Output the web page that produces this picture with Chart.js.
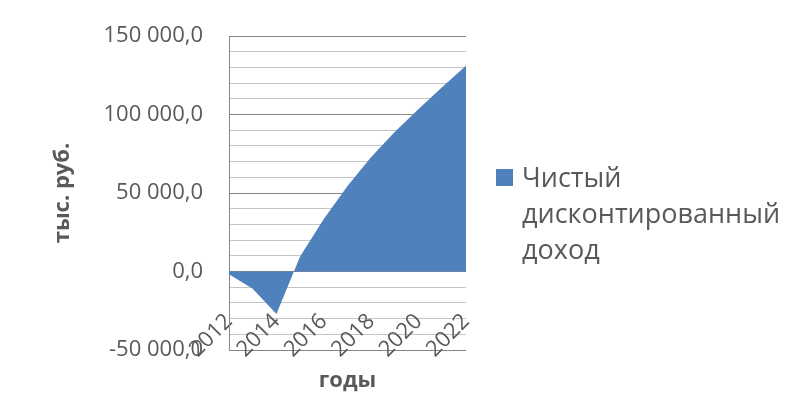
<!DOCTYPE html>
<html>
<head>
<meta charset="utf-8">
<script src="https://cdn.jsdelivr.net/npm/chart.js@4.4.1/dist/chart.umd.min.js"></script>
<style>
  body { margin: 0; background: #fff; }
  #wrap { position: relative; width: 794px; height: 409px; }
</style>
</head>
<body>
<div id="wrap"><canvas id="chart-chdd"></canvas></div>
<script>
  // годы и значения ЧДД, тыс. руб.
  const years = ['2012', '2013', '2014', '2015', '2016', '2017', '2018', '2019', '2020', '2021', '2022'];
  const chdd = [-1800, -11000, -27000, 9500, 33500, 54500, 73000, 89000, 103500, 117500, 131000];
  const seriesName = 'Чистый дисконтированный доход';
  const yTitle = 'тыс. руб.';
  const xTitle = 'годы';

  const FONT = "'Open Sans', sans-serif";
  const TEXT = '#595959';

  const fmt = (v) => {
    const s = Math.abs(v).toString().replace(/\B(?=(\d{3})+(?!\d))/g, ' ');
    return (v < 0 ? '-' : '') + s + ',0';
  }

  // легенда справа, текст переносится по словам
  const legendRight = {
    id: 'legendRight',
    afterDraw(chart) {
      const ctx = chart.ctx;
      const ds = chart.data.datasets[0];
      ctx.save();
      ctx.fillStyle = ds.backgroundColor;
      ctx.fillRect(496, 169, 17, 17);
      ctx.fillStyle = TEXT;
      ctx.font = `27px ${FONT}`;
      ctx.textBaseline = 'alphabetic';
      ds.label.split(' ').forEach((w, i) => {
        ctx.fillText(w, 522, 187 + i * 36);
      });
      ctx.restore();
    }
  }

  const ctx = document.getElementById('chart-chdd').getContext('2d');
  const chart = new Chart(ctx, {
    type: 'line',
    data: {
      labels: years,
      datasets: [{
        label: seriesName,
        data: chdd,
        backgroundColor: '#4F81BD',
        borderWidth: 0,
        pointRadius: 0,
        tension: 0,
        fill: 'origin'
      }]
    },
    options: {
      responsive: true,
      maintainAspectRatio: false,
      animation: false,
      layout: { padding: { left: 40, top: 36, right: 328, bottom: 59 } },
      plugins: {
        legend: { display: false },
        tooltip: { enabled: false }
      },
      scales: {
        x: {
          position: { y: 0 },
          z: 1,
          offset: false,
          grid: { display: false },
          border: { display: false },
          ticks: {
            autoSkip: false,
            minRotation: 45,
            maxRotation: 45,
            padding: 29,
            color: TEXT,
            font: { family: FONT, size: 22 },
            callback: (v, i) => (i % 2 === 0 ? years[i] : '')
          },
          title: {
            display: true,
            text: xTitle,
            color: TEXT,
            font: { family: FONT, size: 22, weight: 'bold' },
            padding: { top: 0, bottom: -63 }
          },
          afterFit: (scale) => {
            scale.height = 59;
            scale.paddingLeft = 0;
            scale.paddingRight = 0;
          }
        },
        y: {
          min: -50000,
          max: 150000,
          grid: {
            drawTicks: false,
            color: (c) => (c.tick.value % 50000 === 0 ? '#868686' : '#c4c4c4'),
            lineWidth: 1
          },
          border: { display: true, color: '#868686' },
          ticks: {
            stepSize: 10000,
            autoSkip: false,
            padding: 26,
            color: TEXT,
            font: { family: FONT, size: 22 },
            callback: (v) => (v % 50000 === 0 ? fmt(v) : '')
          },
          title: {
            display: true,
            text: yTitle,
            color: TEXT,
            font: { family: FONT, size: 22, weight: 'bold' },
            padding: { top: 10, bottom: 0 }
          },
          afterFit: (scale) => {
            scale.width = 189;
            scale.paddingTop = 0;
            scale.paddingBottom = 0;
          }
        }
      }
    },
    plugins: [legendRight]
  });
</script>
</body>
</html>
